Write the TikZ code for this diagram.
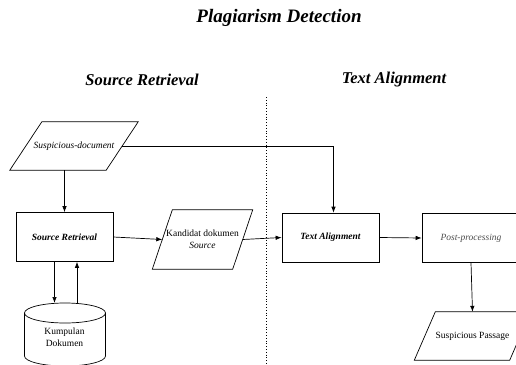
\documentclass[tikz,border=0pt]{standalone}
\usepackage{fontspec}
\setmainfont{Liberation Serif}[
  ItalicFont={Liberation Serif Italic},
  BoldFont={Liberation Serif Bold},
  BoldItalicFont={Liberation Serif Bold Italic}]
\usetikzlibrary{arrows.meta}

% parallelogram round a named node: #1 node, #2 half of the slant
\newcommand\paragram[2]{%
  \draw[line width=0.7pt] ([xshift=#2]#1.north west) -- ([xshift=#2]#1.north east)
    -- ([xshift=-#2]#1.south east) -- ([xshift=-#2]#1.south west) -- cycle;}

\begin{document}
\begin{tikzpicture}[x=1pt,y=-1pt,
  every node/.style={font=\fontsize{9.5}{12}\selectfont, align=center, inner sep=1pt},
  head/.style={font=\fontsize{16.5}{20}\selectfont\bfseries\itshape},
  procbox/.style={draw, line width=0.7pt, minimum width=97pt, minimum height=49pt, inner sep=0pt},
  databox/.style={inner sep=0pt},
  arr/.style={line width=0.7pt, -{Latex[length=6pt,width=4.5pt]}}]
  \useasboundingbox (0,0) rectangle (516,364);
  \clip (0,0) rectangle (516,364);

  % headings
  \node[font=\fontsize{19}{22}\selectfont\bfseries\itshape] (title) at (279,18) {Plagiarism Detection};
  \node[head] (hsr) at (142,80) {Source Retrieval};
  \node[head] (hta) at (394,80) {Text Alignment};
  \coordinate (divtop) at (266,97);
  \coordinate (divbot) at (266,366);
  \draw[line width=0.8pt, dash pattern=on 1pt off 1.8pt] (divtop) -- (divbot);

  % source retrieval
  \node[databox, minimum width=96pt, minimum height=48pt] (susp) at (74,146) {\itshape Suspicious-document};
  \paragram{susp}{16pt}
  \node[procbox, font=\fontsize{9.5}{12}\selectfont\bfseries\itshape] (sr) at (64.5,237) {Source Retrieval};
  \node[databox, minimum width=80pt, minimum height=59pt] (kand) at (202.5,239.5) {Kandidat dokumen\\ \itshape Source};
  \paragram{kand}{10pt}
  \coordinate (dbtop) at (64.5,303);
  \node (db) at (64.5,337.5) {Kumpulan\\Dokumen};
  \draw[line width=0.7pt] (24.5,313) -- (24.5,356) arc[start angle=180, end angle=0, x radius=40.5, y radius=10] -- (105.5,313);
  \draw[line width=0.7pt] (65,313) ellipse [x radius=40.5, y radius=10];

  % text alignment
  \node[procbox, font=\fontsize{9.5}{12}\selectfont\bfseries\itshape] (ta) at (330.5,237.5) {Text Alignment};
  \node[procbox, minimum width=98pt, text=black!70, font=\fontsize{9.5}{12}\selectfont\itshape] (pp) at (471,238) {Post-processing};
  \node[databox, minimum width=95pt, minimum height=48pt] (pass) at (472.5,336) {Suspicious Passage};
  \paragram{pass}{10.5pt}

  % connectors
  \draw[arr] (susp.south -| sr.north) -- (sr.north);
  \draw[arr] (susp.east) -| ([xshift=3pt]ta.north);
  \draw[arr] (sr.east) -- (kand.west);
  \draw[arr] (kand.east) -- (ta.west);
  \draw[arr] (ta.east) -- (pp.west);
  \draw[arr] (pp.south) -- (pass.north);
  \draw[arr] ([xshift=-10pt]sr.south) -- ([xshift=-10pt]dbtop);
  \draw[arr] ([xshift=12.5pt]dbtop) -- ([xshift=12.5pt]sr.south);
\end{tikzpicture}
\end{document}
